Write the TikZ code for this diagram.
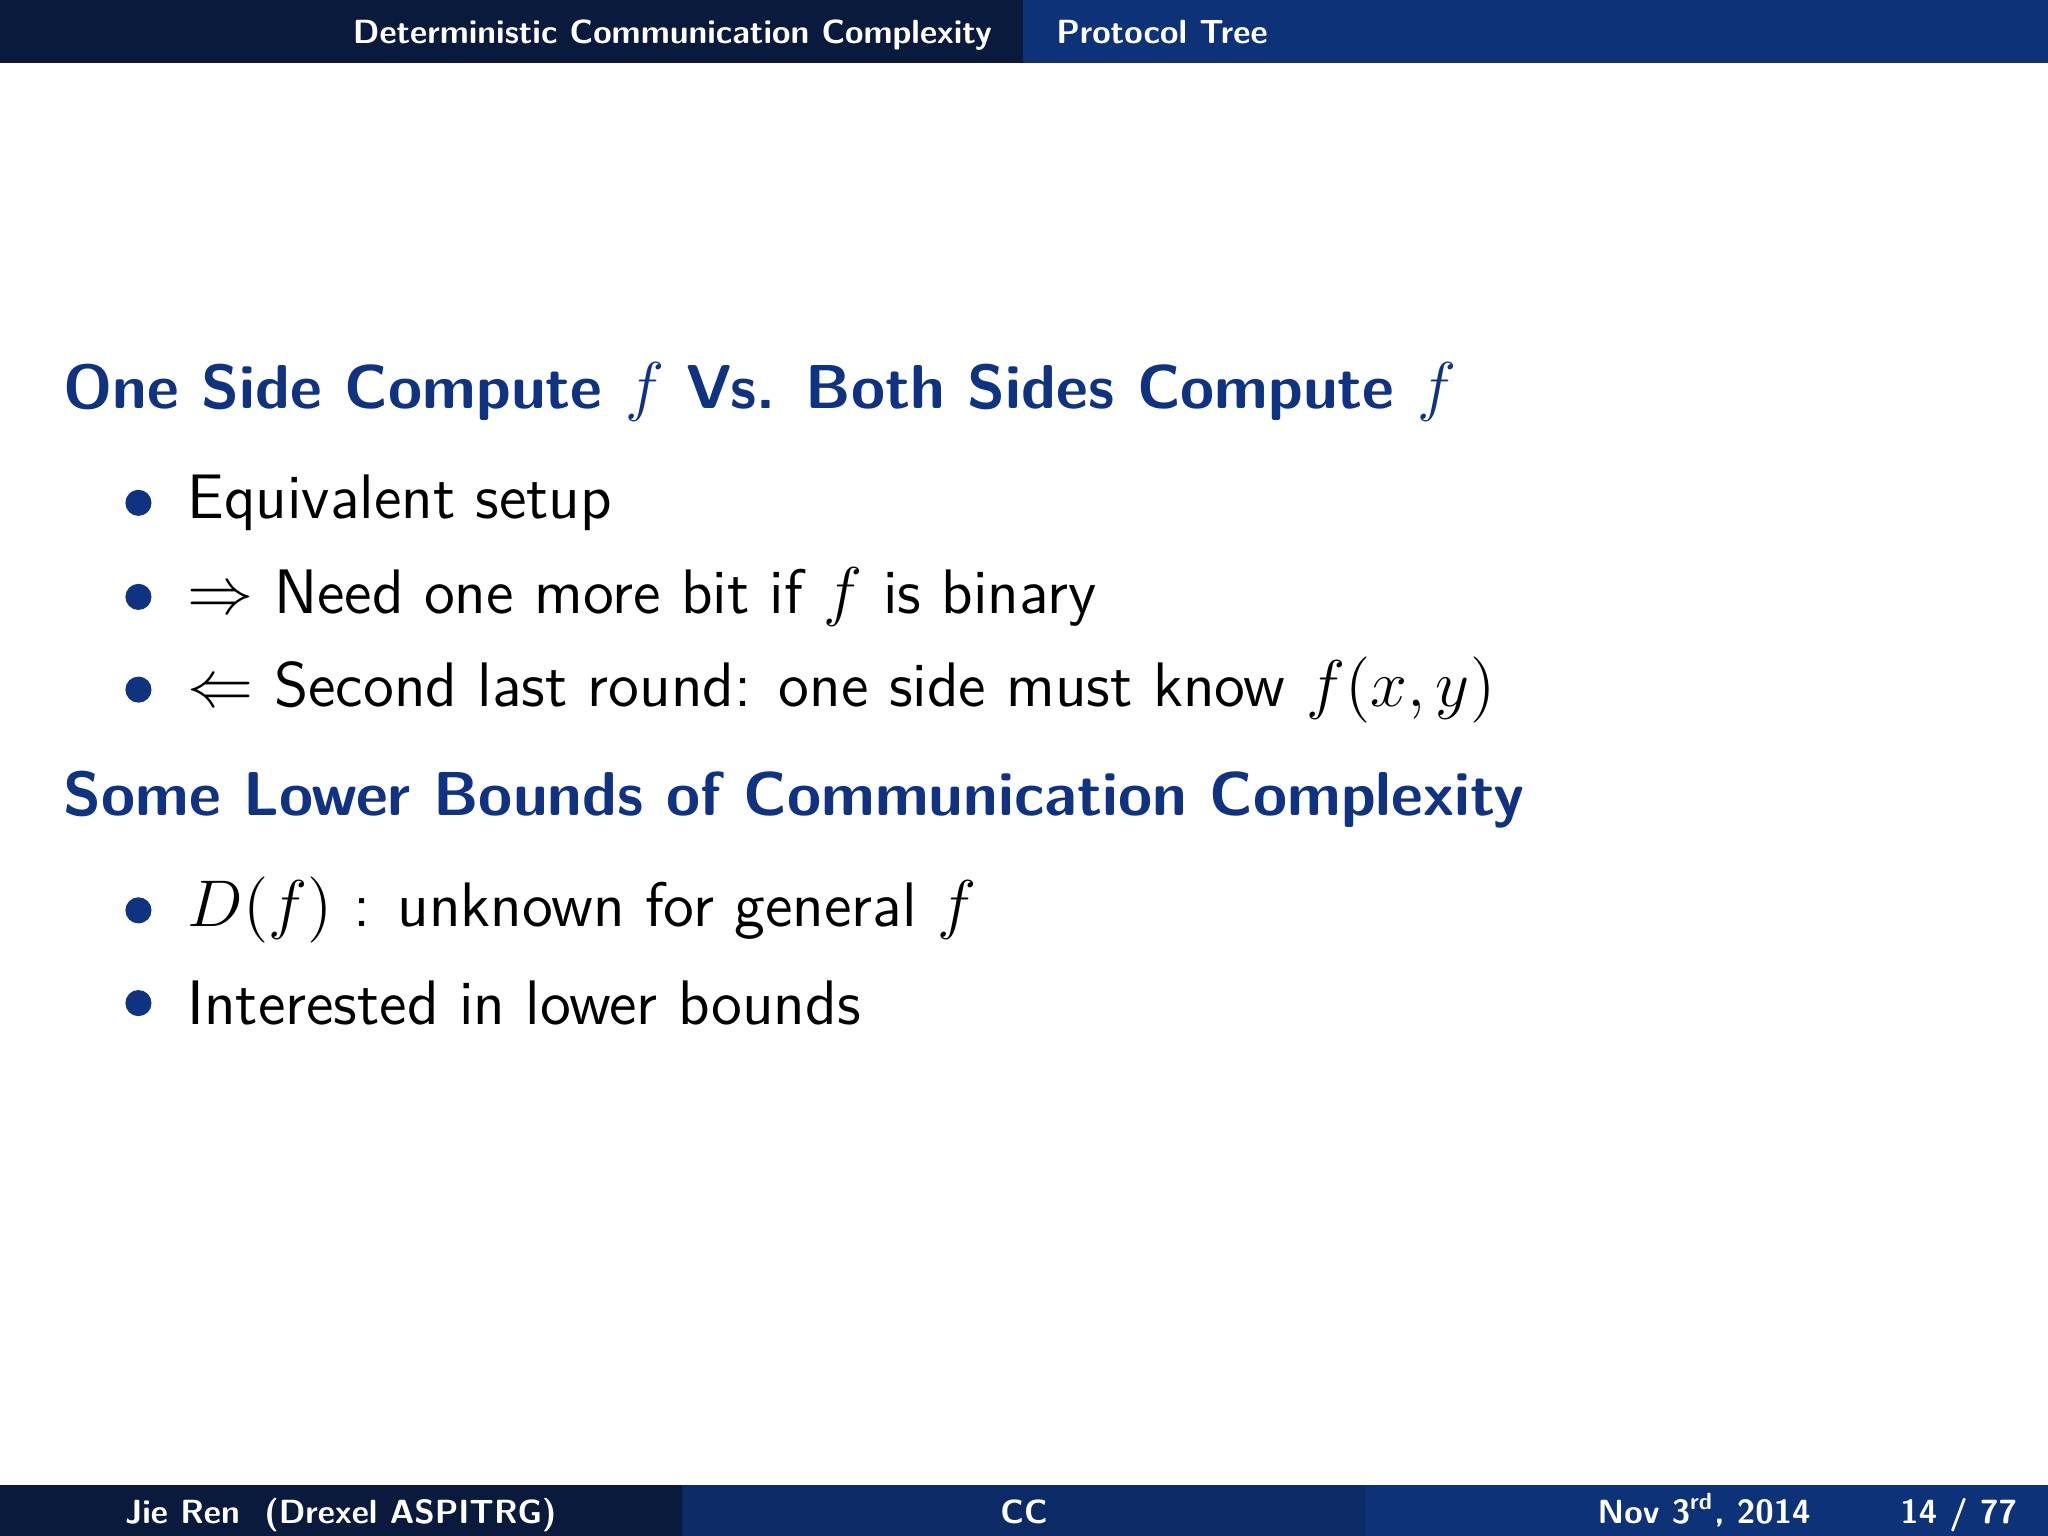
\documentclass[tikz,border=0pt]{standalone}
\usepackage{amsmath,amssymb}
\renewcommand{\familydefault}{\sfdefault}
\definecolor{navyA}{HTML}{0A1A3C}
\definecolor{navyB}{HTML}{0C2A66}
\definecolor{navyC}{HTML}{0D3278}
\definecolor{headc}{HTML}{0F3380}
\tikzset{
 bartxt/.style={text=white,font=\fontsize{7.3}{9}\selectfont\bfseries,inner sep=0pt,text height=1.8ex,text depth=0.5ex},
 heading/.style={text=headc,font=\fontsize{13.5}{16}\selectfont\bfseries,anchor=west,inner sep=0pt},
 body/.style={font=\fontsize{13.7}{16}\selectfont,anchor=west,inner sep=0pt},
 dot/.style={circle,fill=headc,minimum size=0.2cm,inner sep=0pt}
}
\begin{document}
\begin{tikzpicture}[x=1cm,y=1cm]
\useasboundingbox (0,0) rectangle (15.68,-11.76);
\fill[navyA] (0,0) rectangle (7.83,-0.48);
\fill[navyC] (7.83,0) rectangle (15.68,-0.48);
\fill[navyA] (0,-11.37) rectangle (5.22,-11.76);
\fill[navyB] (5.22,-11.37) rectangle (10.45,-11.76);
\fill[navyC] (10.45,-11.37) rectangle (15.68,-11.76);
\node[bartxt,anchor=east] (h1) at (7.60,-0.23) {Deterministic Communication Complexity};
\node[bartxt,anchor=west] (h2) at (8.08,-0.23) {Protocol Tree};
\node[bartxt,anchor=west] (f1) at (0.95,-11.56) {Jie Ren\ \ (Drexel ASPITRG)};
\node[bartxt] (f2) at (7.84,-11.56) {CC};
\node[bartxt,anchor=east] (f3) at (13.87,-11.56) {Nov 3\textsuperscript{rd}, 2014};
\node[bartxt,anchor=east] (f4) at (15.45,-11.56) {14 / 77};
\node[heading] (t1) at (0.48,-3.00) {One Side Compute $f$ Vs. Both Sides Compute $f$};
\node[heading] (t2) at (0.48,-6.12) {Some Lower Bounds of Communication Complexity};
\foreach \y/\t [count=\i] in {3.85/{Equivalent setup},4.57/{$\Rightarrow$ Need one more bit if $f$ is binary},5.28/{$\Leftarrow$ Second last round: one side must know $f(x,y)$},6.97/{$D(f)$ : unknown for general $f$},7.68/{Interested in lower bounds}}{
 \node[dot] (d\i) at (1.06,-\y) {};
 \node[body] (b\i) at (1.43,-\y) {\t};
}
\end{tikzpicture}
\end{document}
